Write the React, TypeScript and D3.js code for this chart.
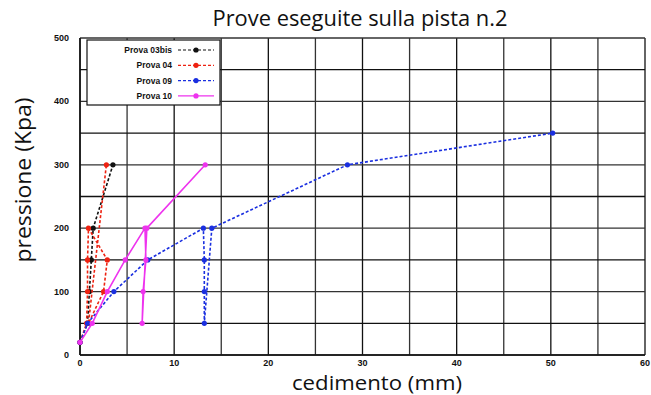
import React from "react";
import * as d3 from "d3";

const seriesNames = ["Prova 03bis", "Prova 04", "Prova 09", "Prova 10"];
const seriesColors = ["#111111", "#ee2211", "#1a2fe0", "#ee33ee"];
const seriesDash = ["3,2", "3,2", "3,2", ""];

const prova03bis: [number, number][] = [
  [0, 20], [0.8, 50], [1.0, 100], [1.2, 150], [1.4, 200], [3.5, 300],
];
const prova04: [number, number][] = [
  [0, 20], [0.7, 50], [0.8, 100], [0.8, 150], [0.9, 200], [2.9, 150], [2.5, 100], [0.9, 50], [2.8, 300],
];
const prova09: [number, number][] = [
  [0, 20], [0.8, 50], [3.6, 100], [7.2, 150], [13.1, 200], [13.2, 150], [13.2, 100], [13.2, 50], [14.0, 200], [28.4, 300], [50.2, 350],
];
const prova10: [number, number][] = [
  [0, 20], [1.3, 50], [2.9, 100], [4.8, 150], [6.9, 200], [7.0, 150], [6.7, 100], [6.6, 50], [7.1, 200], [13.3, 300],
];
const allSeries = [prova03bis, prova04, prova09, prova10];

const xTicks = [0, 10, 20, 30, 40, 50, 60];
const yTicks = [0, 100, 200, 300, 400, 500];
const xGrid = d3.range(0, 61, 5);
const yGrid = d3.range(0, 501, 50);

export default function App() {
  const W = 651, H = 395;
  const L = 80, R = 645, T = 38, B = 355;
  const x = d3.scaleLinear().domain([0, 60]).range([L, R]);
  const y = d3.scaleLinear().domain([0, 500]).range([B, T]);
  const line = d3.line<[number, number]>().x(d => x(d[0])).y(d => y(d[1]));
  const tickFont = "Arial, 'Liberation Sans', sans-serif";
  const titleFont = "'Open Sans', sans-serif";

  return (
    <svg width={W} height={H} style={{ position: "absolute", left: 0, top: 0, background: "#fff" }}>
      <rect x={0} y={0} width={W} height={H} fill="#fff" />
      <text x={360} y={26} textAnchor="middle" fontFamily={titleFont} fontSize={22.5} fill="#111"
        textLength={295} lengthAdjust="spacingAndGlyphs">
        Prove eseguite sulla pista n.2
      </text>
      {xGrid.map(v => (
        <line key={"gx" + v} x1={x(v)} x2={x(v)} y1={T} y2={B} stroke={v % 10 === 0 ? "#111" : "#333"} strokeWidth={1.3} />
      ))}
      {yGrid.map(v => (
        <line key={"gy" + v} x1={L} x2={R} y1={y(v)} y2={y(v)} stroke={v % 100 === 0 ? "#333" : "#111"} strokeWidth={1.3} />
      ))}
      <line x1={L} x2={L} y1={T} y2={B} stroke="#111" strokeWidth={1.5} />
      <line x1={L} x2={R} y1={B} y2={B} stroke="#111" strokeWidth={1.5} />
      {xTicks.map(v => (
        <text key={"xt" + v} x={x(v)} y={B + 10.5} textAnchor="middle" fontFamily={tickFont} fontWeight="bold" fontSize={9} fill="#111">
          {v}
        </text>
      ))}
      {yTicks.map(v => (
        <text key={"yt" + v} x={L - 11} y={y(v) + 3} textAnchor="end" fontFamily={tickFont} fontWeight="bold" fontSize={9} fill="#111">
          {v}
        </text>
      ))}
      <text x={377} y={390} textAnchor="middle" fontFamily={titleFont} fontSize={19.5} fill="#111"
        textLength={170} lengthAdjust="spacingAndGlyphs">
        cedimento (mm)
      </text>
      <text transform={`translate(31,180) rotate(-90)`} textAnchor="middle" fontFamily={titleFont} fontSize={22.5} fill="#111"
        textLength={165} lengthAdjust="spacingAndGlyphs">
        pressione (Kpa)
      </text>
      {allSeries.map((s, i) => (
        <g key={"s" + i}>
          <path d={line(s) || ""} fill="none" stroke={seriesColors[i]} strokeWidth={1.6} strokeDasharray={seriesDash[i]} />
          {s.map((d, j) => (
            <circle key={j} cx={x(d[0])} cy={y(d[1])} r={2.6} fill={seriesColors[i]} />
          ))}
        </g>
      ))}
      <g>
        <rect x={87} y={40} width={133} height={65} fill="#fff" stroke="#111" strokeWidth={1.2} />
        {seriesNames.map((n, i) => {
          const yy = 50 + i * 15.3;
          return (
            <g key={"lg" + i}>
              <text x={172} y={yy + 3} textAnchor="end" fontFamily={tickFont} fontWeight="bold" fontSize={8.5} fill="#111">
                {n}
              </text>
              <line x1={178} x2={214} y1={yy} y2={yy} stroke={seriesColors[i]} strokeWidth={1.2} strokeDasharray={seriesDash[i]} />
              <circle cx={196} cy={yy} r={2.6} fill={seriesColors[i]} />
            </g>
          );
        })}
      </g>
    </svg>
  );
}
